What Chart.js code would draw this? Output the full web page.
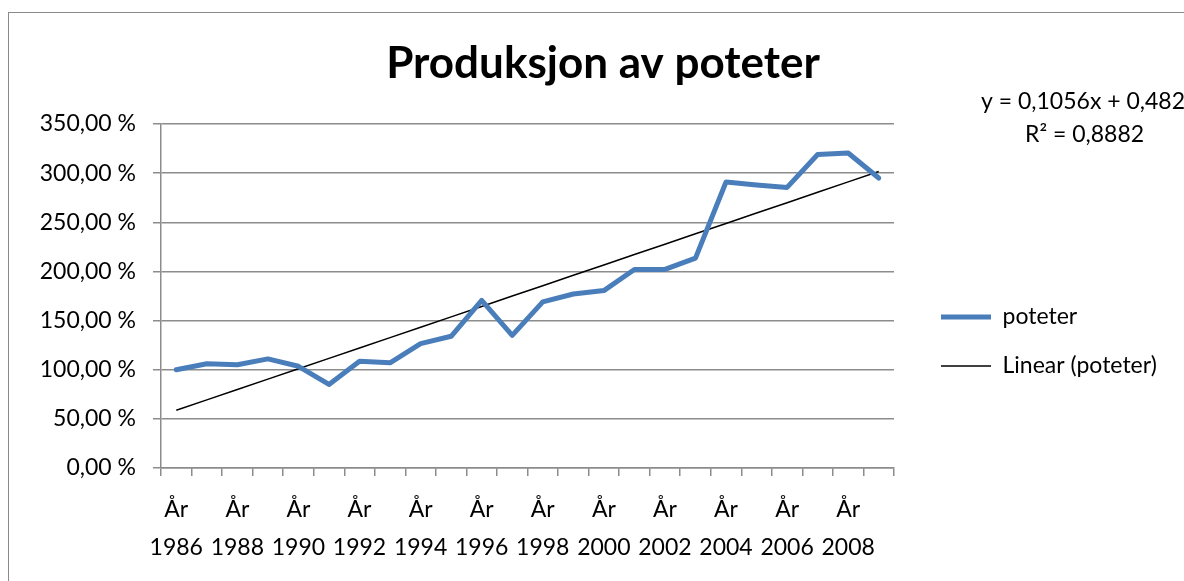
<!DOCTYPE html>
<html lang="no">
<head>
    <meta charset="UTF-8">
    <title>Produksjon av poteter</title>
    <script src="https://cdn.jsdelivr.net/npm/chart.js"></script>
    <style>
        html, body { margin: 0; padding: 0; background: #fff; overflow: hidden; }
        .wrap { position: relative; width: 1184px; height: 581px; }
        .frame {
            position: absolute; left: 8px; top: 12px; width: 1300px; height: 700px;
            border: 1px solid #8a8a8a; pointer-events: none;
        }
    </style>
</head>
<body>
    <div class="wrap">
        <canvas id="chart"></canvas>
        <div class="frame"></div>
    </div>
    <script>
        // Data
        const years = [1986, 1987, 1988, 1989, 1990, 1991, 1992, 1993, 1994, 1995, 1996, 1997,
                       1998, 1999, 2000, 2001, 2002, 2003, 2004, 2005, 2006, 2007, 2008, 2009];
        const poteter = [100, 106, 105, 111, 103.5, 85, 108.5, 107, 126.5, 134, 170.5, 135,
                         169, 177, 180.5, 202, 202, 213.5, 291, 288, 285.5, 319, 320.5, 295];
        // Trend line coefficients as shown on the chart
        const trendSlope = 0.1056;
        const trendIntercept = 0.482;
        const trendText = ['y = 0,1056x + 0,482', 'R\u00b2 = 0,8882'];
        const yTicks = [0, 50, 100, 150, 200, 250, 300, 350];

        const trend = years.map((y, i) => (trendSlope * (i + 1) + trendIntercept) * 100);

        const font = 'Lato, "Noto Sans", sans-serif';
        const gridColor = '#8c8c8c';

        // nudge title and legend to where Excel put them, and draw the equation label
        const extras = {
            id: 'extras',
            afterLayout(chart) {
                const t = chart.titleBlock;
                t.left += 31; t.right += 31;
                const lg = chart.legend;
                lg.left += 21;
                lg.right = chart.width;
                lg.top += 51; lg.bottom += 51;
            },
            afterDraw(chart) {
                const ctx = chart.ctx;
                ctx.save();
                ctx.fillStyle = '#000';
                ctx.font = '23px ' + font;
                ctx.textAlign = 'left';
                ctx.textBaseline = 'middle';
                ctx.fillText(trendText[0], 981, 102);
                ctx.fillText(trendText[1], 1025, 135);
                ctx.restore();
            }
        };

        new Chart(document.getElementById('chart'), {
            type: 'line',
            data: {
                labels: years,
                datasets: [{
                    label: 'poteter',
                    data: poteter,
                    borderColor: '#4a7ebb',
                    backgroundColor: '#4a7ebb',
                    borderWidth: 5,
                    borderJoinStyle: 'round',
                    borderCapStyle: 'round',
                    pointRadius: 0,
                    tension: 0
                }, {
                    label: 'Linear (poteter)',
                    data: trend,
                    borderColor: '#000',
                    backgroundColor: '#000',
                    borderWidth: 1.5,
                    pointRadius: 0,
                    tension: 0
                }]
            },
            options: {
                responsive: true,
                maintainAspectRatio: false,
                animation: false,
                layout: { padding: { left: 0, right: 40, top: 0, bottom: 0 } },
                plugins: {
                    title: {
                        display: true,
                        text: 'Produksjon av poteter',
                        color: '#000',
                        font: { family: font, size: 44, weight: 'bold', lineHeight: 1.2 },
                        padding: { top: 37, bottom: 34.2 }
                    },
                    legend: {
                        position: 'right',
                        align: 'center',
                        maxWidth: 250,
                        labels: {
                            color: '#000',
                            font: { family: font, size: 23 },
                            usePointStyle: true,
                            pointStyle: 'line',
                            pointStyleWidth: 50,
                            padding: 26
                        }
                    },
                    tooltip: { enabled: false }
                },
                scales: {
                    x: {
                        offset: true,
                        grid: {
                            offset: true,
                            drawOnChartArea: false,
                            drawTicks: true,
                            tickLength: 8,
                            color: gridColor,
                            lineWidth: 1.5
                        },
                        border: { display: true, color: gridColor, width: 1.5 },
                        ticks: {
                            autoSkip: false,
                            maxRotation: 0,
                            color: '#000',
                            padding: 15,
                            font: { family: font, size: 23, lineHeight: 1.65 },
                            callback: (v, i) => i % 2 === 0 ? ['År', String(years[i])] : ''
                        },
                        afterFit: s => { s.height = 113; }
                    },
                    y: {
                        min: 0,
                        max: 350,
                        afterBuildTicks: s => { s.ticks = yTicks.map(v => ({ value: v })); },
                        grid: { color: gridColor, lineWidth: 1.5, tickLength: 8 },
                        border: { display: true, color: gridColor, width: 1.5 },
                        ticks: {
                            color: '#000',
                            padding: 17,
                            font: { family: font, size: 23 },
                            callback: v => v.toFixed(2).replace('.', ',') + ' %'
                        },
                        afterFit: s => { s.width = 161; }
                    }
                }
            },
            plugins: [extras]
        });
    </script>
</body>
</html>
